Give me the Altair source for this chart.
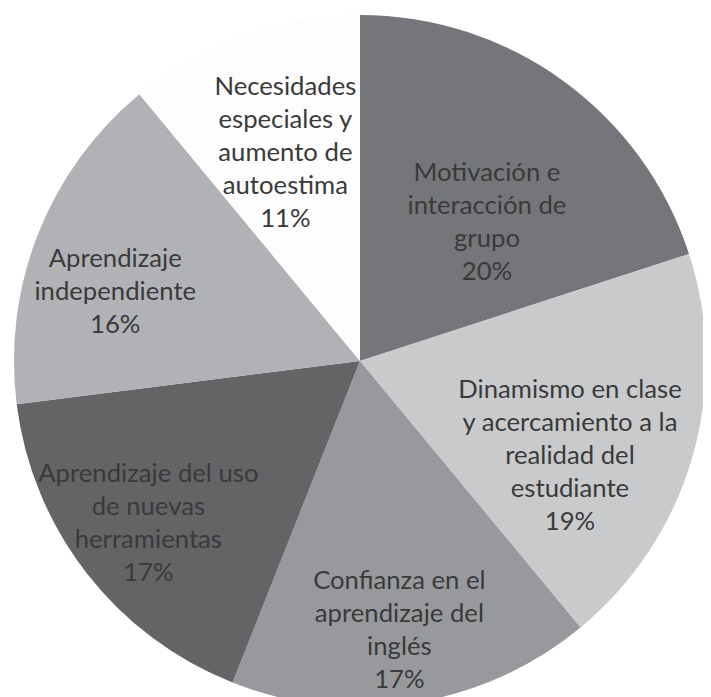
import altair as alt
import pandas as pd

# Data
categories = [
    "Motivación e interacción de grupo",
    "Dinamismo en clase y acercamiento a la realidad del estudiante",
    "Confianza en el aprendizaje del inglés",
    "Aprendizaje del uso de nuevas herramientas",
    "Aprendizaje independiente",
    "Necesidades especiales y aumento de autoestima",
]
values = [20, 19, 17, 17, 16, 11]
label_lines = [
    ["Motivación e", "interacción de", "grupo"],
    ["Dinamismo en clase", "y acercamiento a la", "realidad del", "estudiante"],
    ["Confianza en el", "aprendizaje del", "inglés"],
    ["Aprendizaje del uso", "de nuevas", "herramientas"],
    ["Aprendizaje", "independiente"],
    ["Necesidades", "especiales y", "aumento de", "autoestima"],
]

# Styling / layout
colors = ["#75767a", "#c9cacc", "#98999d", "#646467", "#b1b2b5", "#fdfdfd"]
label_radius = [192, 232, 273, 268, 258, 226]
label_angle_adjust = [6.0, 7.5, 0.6, 0.8, -5.2, 0.3]
R = 350
CX, CY = 356, 353
LH = 33.5

df = pd.DataFrame({
    "cat": categories,
    "value": values,
    "order": list(range(len(categories))),
    "label": [lines + [f"{v}%"] for lines, v in zip(label_lines, values)],
    "lr": label_radius,
    "adj": label_angle_adjust,
})

pie = alt.Chart(df).mark_arc(outerRadius=R, stroke=None).encode(
    theta=alt.Theta("value:Q", stack=True),
    order=alt.Order("order:Q", sort="ascending"),
    x=alt.value(CX),
    y=alt.value(CY),
    color=alt.Color("cat:N", scale=alt.Scale(domain=categories, range=colors), legend=None),
)

text = alt.Chart(df).transform_joinaggregate(
    total="sum(value)"
).transform_window(
    cum="sum(value)", sort=[alt.SortField("order", order="ascending")],
    frame=[None, 0],
).transform_calculate(
    ang="(datum.cum - datum.value / 2) / datum.total * 2 * PI + datum.adj * PI / 180",
).transform_calculate(
    px=f"{CX} + datum.lr * sin(datum.ang)",
    py=f"{CY} - datum.lr * cos(datum.ang) - (length(datum.label) - 1) * {LH} / 2",
).mark_text(
    font="Lato", fontSize=26, color="#3a3a3a", align="center",
    baseline="middle", lineHeight=LH, dy=3,
).encode(
    x=alt.X("px:Q", scale=None),
    y=alt.Y("py:Q", scale=None),
    text="label",
)

chart = (pie + text).properties(
    width=703, height=689, padding=0, autosize=alt.AutoSizeParams(type="none"),
    background="white",
).configure_view(stroke=None)

chart.save("out.html", embed_options={"renderer": "svg", "actions": False})
